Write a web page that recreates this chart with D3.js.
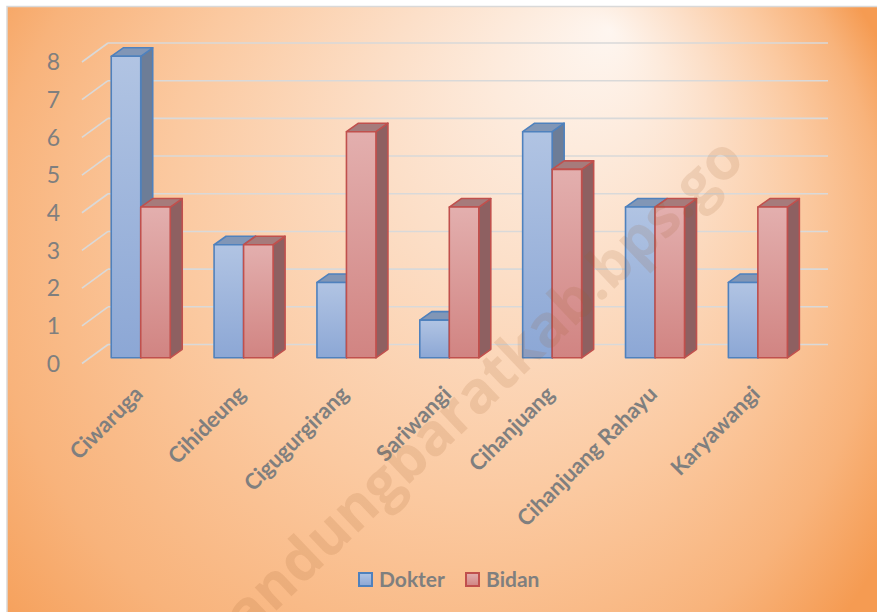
<!DOCTYPE html>
<html>
<head>
<meta charset="utf-8">
<script src="https://cdn.jsdelivr.net/npm/d3@7"></script>
<style>
  html, body { margin: 0; padding: 0; background: #ffffff; }
  svg { display: block; }
</style>
</head>
<body>
<div id="chart"></div>
<script>
// data
const categories = ['Ciwaruga', 'Cihideung', 'Cigugurgirang', 'Sariwangi', 'Cihanjuang', 'Cihanjuang Rahayu', 'Karyawangi'];
const dokter = [8, 3, 2, 1, 6, 4, 2];
const bidan = [4, 3, 6, 4, 5, 4, 4];
const yTicks = [0, 1, 2, 3, 4, 5, 6, 7, 8];
const seriesNames = ['Dokter', 'Bidan'];

const W = 877, H = 612;

// 3d look: back wall plus depth offsets
const wallDx = -26, wallDy = 19;       // back wall -> front edge of floor
const barDx = -18.7, barDy = 13.3;     // back wall -> bar front face
const depthDx = 12, depthDy = -8.5;    // bar front face -> bar back face
const barW = 29.5;

const styles = [
    { stroke: '#4f81bd', top: '#8196b6', side: '#6d7d97', grad: ['#b1c4e3', '#8ca7d5'] },
    { stroke: '#c0504d', top: '#a67b7b', side: '#8e6061', grad: ['#e3afae', '#d18482'] }
];

const svg = d3.select('#chart').append('svg')
    .attr('width', W)
    .attr('height', H);

const defs = svg.append('defs');

const bg = defs.append('radialGradient')
    .attr('id', 'bg')
    .attr('gradientUnits', 'userSpaceOnUse')
    .attr('cx', 400).attr('cy', 300).attr('r', 545)
    .attr('fx', 610).attr('fy', 30);
[[0, '#fef6f0'], [0.3, '#fcdfc8'], [0.58, '#fbc9a0'], [0.82, '#f8b37b'], [1, '#f59b52']]
    .forEach(s => bg.append('stop').attr('offset', s[0]).attr('stop-color', s[1]));

styles.forEach((s, i) => {
    const g = defs.append('linearGradient').attr('id', 'front' + i)
        .attr('x1', 0).attr('y1', 0).attr('x2', 0).attr('y2', 1);
    g.append('stop').attr('offset', 0).attr('stop-color', s.grad[0]);
    g.append('stop').attr('offset', 1).attr('stop-color', s.grad[1]);
});

// chart area background + frame
svg.append('rect')
    .attr('x', 7).attr('y', 6)
    .attr('width', W - 7).attr('height', H - 6)
    .attr('fill', 'url(#bg)');
svg.append('path')
    .attr('d', `M7,${H} V6.5 H${W}`)
    .attr('fill', 'none')
    .attr('stroke', '#d9d9d9')
    .attr('stroke-width', 1.5);

const x = d3.scaleBand().domain(categories).range([108, 828]);
const y = d3.scaleLinear().domain([0, 8]).range([344.5, 43]);

// gridlines: back wall + floor/side diagonal
const grid = svg.append('g').attr('stroke', '#d9d9d9').attr('stroke-width', 1.6).attr('fill', 'none');
grid.selectAll('line.back').data(yTicks).join('line')
    .attr('class', 'back')
    .attr('x1', x.range()[0]).attr('x2', x.range()[1])
    .attr('y1', d => y(d)).attr('y2', d => y(d));
grid.selectAll('line.diag').data(yTicks).join('line')
    .attr('class', 'diag')
    .attr('x1', x.range()[0]).attr('y1', d => y(d))
    .attr('x2', x.range()[0] + wallDx).attr('y2', d => y(d) + wallDy);

// y labels
svg.append('g').selectAll('text').data(yTicks).join('text')
    .attr('x', 60)
    .attr('y', d => y(d) + wallDy)
    .attr('dy', '0.36em')
    .attr('text-anchor', 'end')
    .attr('fill', '#7f7f7f')
    .style('font', '23px Lato, sans-serif')
    .text(d => d);

// bars
const bars = [];
categories.forEach((c, i) => {
    const cx = x(c) + x.bandwidth() / 2 + barDx;
    [dokter[i], bidan[i]].forEach((v, s) => {
        bars.push({ x0: cx - barW + s * barW, yTop: y(v) + barDy, yBot: y(0) + barDy, s: s });
    });
});

const barG = svg.append('g').selectAll('g').data(bars).join('g')
    .attr('stroke', d => styles[d.s].stroke)
    .attr('stroke-width', 1.6)
    .attr('stroke-linejoin', 'round');

barG.append('path')
    .attr('fill', d => styles[d.s].side)
    .attr('d', d => {
        const r = d.x0 + barW;
        return `M${r},${d.yTop} L${r + depthDx},${d.yTop + depthDy} L${r + depthDx},${d.yBot + depthDy} L${r},${d.yBot} Z`;
    });
barG.append('path')
    .attr('fill', d => styles[d.s].top)
    .attr('d', d => `M${d.x0},${d.yTop} L${d.x0 + depthDx},${d.yTop + depthDy} L${d.x0 + barW + depthDx},${d.yTop + depthDy} L${d.x0 + barW},${d.yTop} Z`);
barG.append('rect')
    .attr('fill', d => `url(#front${d.s})`)
    .attr('x', d => d.x0)
    .attr('y', d => d.yTop)
    .attr('width', barW)
    .attr('height', d => d.yBot - d.yTop);

// category labels
svg.append('g').selectAll('text').data(categories).join('text')
    .attr('transform', d => `translate(${x(d) + x.bandwidth() / 2 + barDx - 2},390) rotate(-45)`)
    .attr('dy', '0.35em')
    .attr('text-anchor', 'end')
    .attr('fill', '#7f7f7f')
    .style('font', 'bold 22px Lato, sans-serif')
    .text(d => d);

// legend
const legendX = [358, 465];
const leg = svg.append('g').selectAll('g').data(seriesNames).join('g')
    .attr('transform', (d, i) => `translate(${legendX[i]},572)`);
leg.append('rect')
    .attr('x', 1).attr('y', 1).attr('width', 13).attr('height', 13)
    .attr('fill', (d, i) => `url(#front${i})`)
    .attr('stroke', (d, i) => styles[i].stroke)
    .attr('stroke-width', 2);
leg.append('text')
    .attr('x', 21).attr('y', 8)
    .attr('dy', '0.35em')
    .attr('fill', '#7f7f7f')
    .style('font', 'bold 21px Lato, sans-serif')
    .text(d => d);

// watermark, laid over the chart
svg.append('text')
    .attr('transform', 'translate(470,398) rotate(-43.6)')
    .attr('text-anchor', 'middle')
    .attr('dy', '0.35em')
    .attr('fill', '#9c5a2e')
    .attr('fill-opacity', 0.14)
    .style('font', 'bold 58px "Open Sans", sans-serif')
    .style('pointer-events', 'none')
    .text('bandungbaratkab.bps.go');
</script>
</body>
</html>
